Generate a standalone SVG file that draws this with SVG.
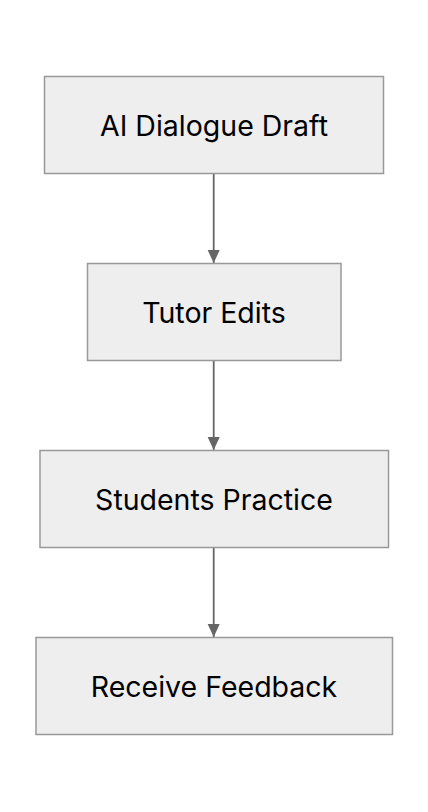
<svg xmlns="http://www.w3.org/2000/svg" width="428" height="812" viewBox="0 0 428 812">
<style>
.node rect{fill:#eeeeee;stroke:#999999;stroke-width:1.5}
.node text{font-family:Inter,"Noto Sans",sans-serif;font-size:28.5px;fill:#000;text-anchor:middle;dominant-baseline:central}
.edge{stroke:#666666;stroke-width:1.8;fill:none}
</style>
<defs>
<marker id="arrow" viewBox="0 0 14 13" refX="14" refY="6.5" markerWidth="13" markerHeight="15" markerUnits="userSpaceOnUse" orient="auto">
<path d="M0,0 L14,6.5 L0,13 z" fill="#666666"/>
</marker>
</defs>
<rect width="428" height="812" fill="#ffffff"/>
<g id="connectors">
<line class="edge" x1="213.7" y1="174" x2="213.7" y2="263" marker-end="url(#arrow)"/>
<line class="edge" x1="213.7" y1="361" x2="213.7" y2="450" marker-end="url(#arrow)"/>
<line class="edge" x1="213.7" y1="548" x2="213.7" y2="637" marker-end="url(#arrow)"/>
</g>
<g id="node1" class="node"><rect x="44.5" y="76.5" width="339" height="97"/><text x="214" y="125">AI Dialogue Draft</text></g>
<g id="node2" class="node"><rect x="87.5" y="263.5" width="253.5" height="97"/><text x="214" y="312">Tutor Edits</text></g>
<g id="node3" class="node"><rect x="40" y="450.5" width="348.5" height="97"/><text x="214" y="499">Students Practice</text></g>
<g id="node4" class="node"><rect x="36" y="637.5" width="356.5" height="97"/><text x="214" y="686">Receive Feedback</text></g>
</svg>
